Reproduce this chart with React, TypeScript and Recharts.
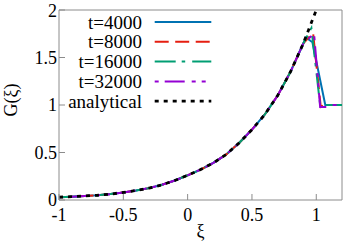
import { Legend, Line, LineChart, ReferenceLine, XAxis, YAxis } from 'recharts';

// ξ grid for the analytical curve (and the overlapping part of the simulations)
const xiGrid = [-1, -0.9, -0.8, -0.7, -0.6, -0.5, -0.4, -0.3, -0.2, -0.1, 0, 0.1, 0.2, 0.3, 0.4, 0.5, 0.6, 0.7, 0.8, 0.9, 1.0];
const analyticalG = [0.03, 0.035, 0.042, 0.05, 0.062, 0.08, 0.1, 0.125, 0.16, 0.205, 0.26, 0.32, 0.39, 0.48, 0.6, 0.74, 0.9, 1.1, 1.35, 1.65, 2.0];

// simulations follow the analytical curve up to ξ≈0.9, then the front
const t4000TailXi = [0.92, 0.97, 1.07, 1.2];
const t4000TailG = [1.71, 1.66, 1.0, 1.0];
const t8000TailXi = [0.975, 1.035, 1.06, 1.2];
const t8000TailG = [1.76, 0.98, 1.0, 1.0];
const t16000TailXi = [0.962, 1.03, 1.2];
const t16000TailG = [1.81, 1.0, 1.0];
const t32000TailXi = [0.983, 1.03, 1.08, 1.1, 1.2];
const t32000TailG = [1.75, 0.98, 0.98, 1.0, 1.0];

const xTicks = [-1, -0.5, 0, 0.5, 1];
const yTicks = [0, 0.5, 1, 1.5, 2];

const toPoints = (xs: number[], gs: number[]) => xs.map((xi, i) => ({ xi, g: gs[i] }));
const headXi = xiGrid.slice(0, 20);
const headG = analyticalG.slice(0, 20);

const series = [
  { name: 't=4000', color: '#0072b2', dash: undefined, width: 2, data: toPoints([...headXi, ...t4000TailXi], [...headG, ...t4000TailG]) },
  { name: 't=8000', color: '#e51e10', dash: '14 6.5', width: 2, data: toPoints([...headXi, ...t8000TailXi], [...headG, ...t8000TailG]) },
  { name: 't=16000', color: '#009e73', dash: '21 6 3.5 7', width: 2, data: toPoints([...headXi, ...t16000TailXi], [...headG, ...t16000TailG]) },
  { name: 't=32000', color: '#9400d3', dash: '4 6 20 7 4 6', width: 2, data: toPoints([...headXi, ...t32000TailXi], [...headG, ...t32000TailG]) },
  { name: 'analytical', color: '#000000', dash: '4 5', width: 2.8, data: toPoints(xiGrid, analyticalG) },
];

const font = 'Liberation Serif';
const axisColor = '#8c8c8c';

function KeyBox() {
  return (
    <svg width={220} height={115} style={{ display: 'block' }}>
      {series.map((s, i) => {
        const y = 22 + i * 19.8;
        return (
          <g key={s.name}>
            <text x={142} y={y + 6.5} textAnchor="end" fontFamily={font} fontSize={19} fill="#000">
              {s.name}
            </text>
            <line x1={154.7} x2={211.3} y1={y} y2={y} stroke={s.color} strokeWidth={s.width} strokeDasharray={s.dash} />
          </g>
        );
      })}
    </svg>
  );
}

export default function App() {
  return (
    <div style={{ position: 'absolute', left: 0, top: 0, fontFamily: font }}>
      <LineChart width={354} height={248} margin={{ top: 10, right: 12, bottom: 0, left: 0 }}>
        <XAxis
          type="number"
          dataKey="xi"
          domain={[-1, 1.2]}
          ticks={xTicks}
          allowDataOverflow
          height={48}
          tickSize={-6}
          tickMargin={14.5}
          stroke={axisColor}
          tick={{ fill: '#000', fontSize: 18, fontFamily: font }}
          label={{
            content: () => (
              <text x={200.5} y={237} textAnchor="middle" fontFamily={font} fontSize={18} fill="#000">
                ξ
              </text>
            ),
          }}
        />
        <YAxis
          type="number"
          domain={[0, 2]}
          ticks={yTicks}
          allowDataOverflow
          width={59}
          tickSize={-6}
          tickMargin={8}
          stroke={axisColor}
          tick={{ fill: '#000', fontSize: 18, fontFamily: font }}
          label={{
            content: () => (
              <text x={17} y={100} transform="rotate(-90 17 100)" textAnchor="middle" fontFamily={font} fontSize={18} fill="#000">
                G(ξ)
              </text>
            ),
          }}
        />
        <ReferenceLine x={1.2} stroke={axisColor} />
        <ReferenceLine y={2} stroke={axisColor} />
        {series.map((s) => (
          <Line
            key={s.name}
            data={s.data}
            dataKey="g"
            name={s.name}
            type="linear"
            stroke={s.color}
            strokeWidth={s.width}
            strokeDasharray={s.dash}
            dot={false}
            isAnimationActive={false}
          />
        ))}
        <Legend
          layout="vertical"
          align="center"
          verticalAlign="middle"
          wrapperStyle={{ left: 0, top: 0 }}
          content={() => <KeyBox />}
        />
      </LineChart>
    </div>
  );
}
